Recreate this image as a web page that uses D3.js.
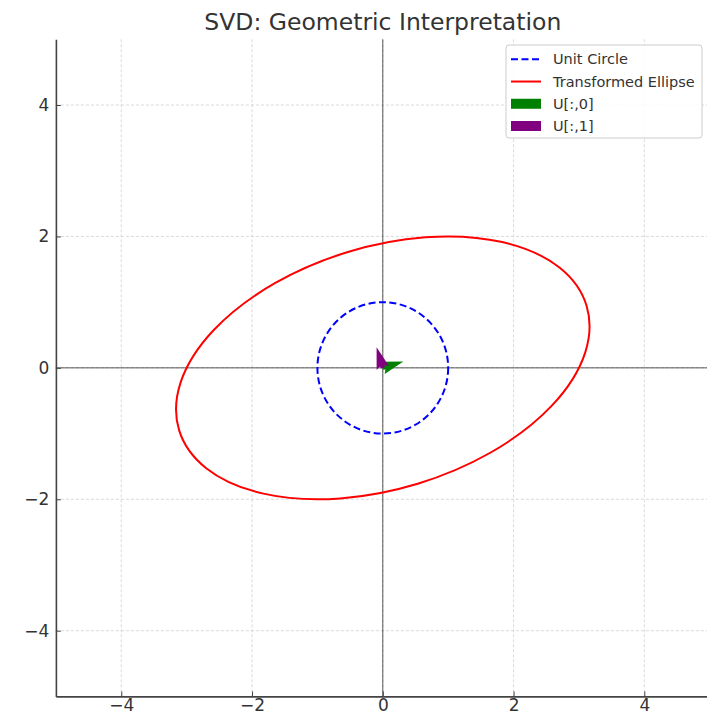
<!DOCTYPE html>
<html>
<head>
<meta charset="utf-8">
<script src="https://cdn.jsdelivr.net/npm/d3@7"></script>
<style>
  body { margin: 0; background: #fff; }
  svg { display: block; font-family: "DejaVu Sans", sans-serif; }
</style>
</head>
<body>
<svg width="707" height="714"></svg>
<script>
// data
const xDomain = [-5, 5];
const yDomain = [-5, 5];
const tickValues = [-4, -2, 0, 2, 4];

// unit circle: center + radius
const circleCenter = [0, 0];
const circleRadius = 1;

// transformed ellipse (A = [[3,1],[0,2]]): semi axes = singular values, angle of U[:,0]
const ellipseCenter = [0, 0];
const singularValues = [3.2566, 1.8424];
const ellipseAngle = 16.85; // degrees

// left singular vectors
const U0 = [0.957, 0.290];
const U1 = [-0.290, 0.957];

const legendLabels = ["Unit Circle", "Transformed Ellipse", "U[:,0]", "U[:,1]"];
const legendColors = ["blue", "red", "green", "purple"];
const legendKinds = ["dash", "line", "patch", "patch"];

const svg = d3.select("svg");

const plot = { left: 55.9, right: 709.7, top: 39.3, bottom: 696.4 };

const x = d3.scaleLinear().domain(xDomain).range([plot.left, plot.right]);
const y = d3.scaleLinear().domain(yDomain).range([plot.bottom, plot.top]);

// grid
const grid = svg.append("g").attr("class", "grid");
grid.selectAll(".gx")
    .data(tickValues)
    .enter()
    .append("line")
    .attr("x1", d => x(d)).attr("x2", d => x(d))
    .attr("y1", plot.top).attr("y2", plot.bottom)
    .attr("stroke", "#d0d0d0")
    .attr("stroke-width", 0.8)
    .attr("stroke-dasharray", "3,2");
grid.selectAll(".gy")
    .data(tickValues)
    .enter()
    .append("line")
    .attr("y1", d => y(d)).attr("y2", d => y(d))
    .attr("x1", plot.left).attr("x2", plot.right)
    .attr("stroke", "#d0d0d0")
    .attr("stroke-width", 0.8)
    .attr("stroke-dasharray", "3,2");

// axhline / axvline at 0
svg.append("line")
    .attr("x1", plot.left).attr("x2", plot.right)
    .attr("y1", y(0)).attr("y2", y(0))
    .attr("stroke", "#000").attr("stroke-opacity", 0.65).attr("stroke-width", 1);
svg.append("line")
    .attr("x1", x(0)).attr("x2", x(0))
    .attr("y1", plot.top).attr("y2", plot.bottom)
    .attr("stroke", "#000").attr("stroke-opacity", 0.65).attr("stroke-width", 1);

// unit circle
svg.append("ellipse")
    .attr("cx", x(circleCenter[0]))
    .attr("cy", y(circleCenter[1]))
    .attr("rx", x(circleRadius) - x(0))
    .attr("ry", y(0) - y(circleRadius))
    .attr("fill", "none")
    .attr("stroke", "blue")
    .attr("stroke-width", 2)
    .attr("stroke-dasharray", "7,3.5");

// transformed ellipse, drawn in data units
const kx = x(1) - x(0);
const ky = y(0) - y(1);
svg.append("g")
    .attr("transform", `translate(${x(ellipseCenter[0])},${y(ellipseCenter[1])}) scale(${kx},${-ky}) rotate(${ellipseAngle})`)
    .append("ellipse")
    .attr("cx", 0).attr("cy", 0)
    .attr("rx", singularValues[0])
    .attr("ry", singularValues[1])
    .attr("fill", "none")
    .attr("stroke", "red")
    .attr("stroke-width", 2)
    .attr("vector-effect", "non-scaling-stroke");

// quiver arrows (short ones are mostly head)
function arrowPoints(u) {
    const ox = x(0), oy = y(0);
    const dx = x(u[0]) - x(0), dy = y(u[1]) - y(0);
    const n = Math.hypot(dx, dy);
    const ux = dx / n, uy = dy / n;     // along
    const px = -uy, py = ux;            // across
    const L = 21.5;
    const pts = [
        [0, 0.1], [0.1, 0.1], [0, 0.3], [1, 0], [0, -0.3], [0.1, -0.1], [0, -0.1]
    ];
    return pts.map(p => [ox + (ux * p[0] + px * p[1]) * L, oy + (uy * p[0] + py * p[1]) * L]);
}

svg.selectAll(".arrow")
    .data([{ u: U0, c: "green" }, { u: U1, c: "purple" }])
    .enter()
    .append("polygon")
    .attr("class", "arrow")
    .attr("points", d => arrowPoints(d.u).map(p => p.join(",")).join(" "))
    .attr("fill", d => d.c);

// axes
const xAxis = svg.append("g")
    .attr("transform", `translate(0,${plot.bottom})`)
    .call(d3.axisBottom(x).tickValues(tickValues).tickSizeInner(-5).tickSizeOuter(0).tickPadding(2.5));
const yAxis = svg.append("g")
    .attr("transform", `translate(${plot.left},0)`)
    .call(d3.axisLeft(y).tickValues(tickValues).tickSizeInner(-5).tickSizeOuter(0).tickPadding(7));

[xAxis, yAxis].forEach(a => {
    a.select(".domain").attr("stroke", "#444").attr("stroke-width", 1.6);
    a.selectAll(".tick line").attr("stroke", "#444").attr("stroke-width", 1);
    a.selectAll(".tick text")
        .attr("fill", "#333")
        .style("font-size", "17px")
        .style("font-family", "DejaVu Sans");
});
yAxis.selectAll(".tick text").attr("x", -6.5);

// title
svg.append("text")
    .attr("x", (plot.left + plot.right) / 2)
    .attr("y", 29.5)
    .attr("text-anchor", "middle")
    .attr("fill", "#333")
    .style("font-size", "23.5px")
    .text("SVD: Geometric Interpretation");

// legend
const legend = svg.append("g").attr("class", "legend");
legend.append("rect")
    .attr("x", 506).attr("y", 45)
    .attr("width", 196).attr("height", 93)
    .attr("rx", 3)
    .attr("fill", "#fff").attr("fill-opacity", 0.85)
    .attr("stroke", "#ccc").attr("stroke-width", 1);

const rowY = d3.scaleLinear().domain([0, 3]).range([59.3, 126]);
const items = legend.selectAll(".item")
    .data(legendLabels)
    .enter()
    .append("g")
    .attr("transform", (d, i) => `translate(0,${rowY(i)})`);

items.each(function(d, i) {
    const g = d3.select(this);
    if (legendKinds[i] === "patch") {
        g.append("rect")
            .attr("x", 511).attr("y", -5)
            .attr("width", 30).attr("height", 10)
            .attr("fill", legendColors[i]);
    } else {
        g.append("line")
            .attr("x1", 511).attr("x2", 541)
            .attr("stroke", legendColors[i])
            .attr("stroke-width", 2)
            .attr("stroke-dasharray", legendKinds[i] === "dash" ? "7,3.5" : null);
    }
    g.append("text")
        .attr("x", 553)
        .attr("dy", "0.35em")
        .attr("fill", "#333")
        .style("font-size", "14.5px")
        .text(d);
});
</script>
</body>
</html>
